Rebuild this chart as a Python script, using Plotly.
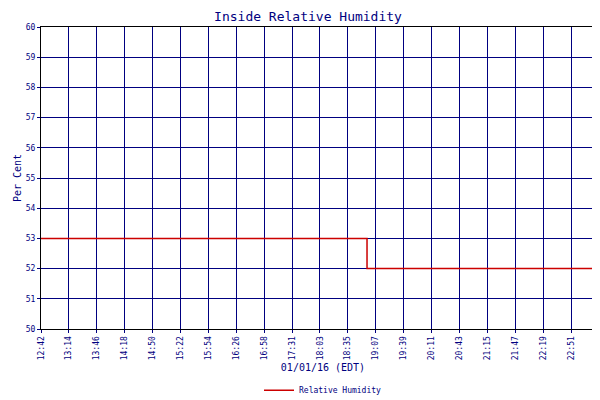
import plotly.graph_objects as go

# Readings (time of day, %RH)
times = ["2016-01-01 12:42", "2016-01-01 18:55", "2016-01-01 18:56", "2016-01-01 23:29"]
humidity = [53, 53, 52, 52]

tick_labels = ["12:42", "13:14", "13:46", "14:18", "14:50", "15:22", "15:54", "16:26",
               "16:58", "17:31", "18:03", "18:35", "19:07", "19:39", "20:11", "20:43",
               "21:15", "21:47", "22:19", "22:51", "23:23", "23:29"]
tick_times = ["2016-01-01 12:42", "2016-01-01 13:14", "2016-01-01 13:46", "2016-01-01 14:18",
              "2016-01-01 14:50", "2016-01-01 15:22", "2016-01-01 15:54", "2016-01-01 16:26",
              "2016-01-01 16:58", "2016-01-01 17:30", "2016-01-01 18:02", "2016-01-01 18:34",
              "2016-01-01 19:06", "2016-01-01 19:38", "2016-01-01 20:10", "2016-01-01 20:42",
              "2016-01-01 21:14", "2016-01-01 21:46", "2016-01-01 22:18", "2016-01-01 22:50",
              "2016-01-01 23:22", "2016-01-01 23:28"]

navy = "#000080"
font = dict(family="DejaVu Sans Mono", size=8, color=navy)

fig = go.Figure()
fig.add_scatter(x=times, y=humidity, mode="lines", name="Relative Humidity",
                line=dict(color="#cc0000", width=1.5, shape="hv"))

fig.update_layout(
    width=600, height=400,
    margin=dict(l=33, r=3, t=19, b=63),
    paper_bgcolor="white", plot_bgcolor="white",
    font=font,
    title=dict(text="Inside Relative Humidity", x=0.5, y=0.99, yanchor="top",
               font=dict(family="DejaVu Sans Mono", size=13, color=navy)),
    showlegend=True,
    legend=dict(orientation="h", x=0.5, xanchor="center", y=-0.155, yanchor="top",
                font=dict(size=8, color=navy)),
)
fig.update_xaxes(range=["2016-01-01 12:42", "2016-01-01 23:29"], automargin=False,
                 tickvals=tick_times, ticktext=tick_labels, tickangle=-90,
                 showgrid=True, gridcolor=navy, gridwidth=1,
                 showline=True, linecolor="black", mirror=True,
                 ticks="outside", ticklen=3, tickcolor=navy,
                 title=dict(text="01/01/16 (EDT)", font=dict(size=10, color=navy), standoff=4))
fig.update_yaxes(range=[50, 60], dtick=1, automargin=False,
                 showgrid=True, gridcolor=navy, gridwidth=1,
                 showline=True, linecolor="black", mirror=True,
                 ticks="outside", ticklen=3, tickcolor=navy,
                 title=dict(text="Per Cent", font=dict(size=10, color=navy), standoff=2))

fig.write_html("out.html")
